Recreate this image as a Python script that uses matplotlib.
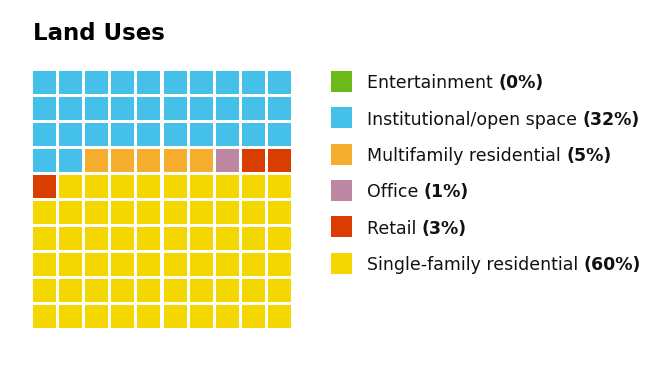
import matplotlib
matplotlib.use("Agg")
import matplotlib.pyplot as plt
from matplotlib.patches import Rectangle

# data (counts of squares, 10x10 grid)
categories = ["Entertainment", "Institutional/open space", "Multifamily residential",
              "Office", "Retail", "Single-family residential"]
counts = [0, 32, 5, 1, 3, 59]
pct_labels = ["0%", "32%", "5%", "1%", "3%", "60%"]
colors = ["#6BBA1A", "#45C0E8", "#F5AD2D", "#BE87A2", "#DA3D00", "#F4D600"]

W, H = 670, 365
fig = plt.figure(figsize=(W / 100, H / 100), dpi=100)
ax = fig.add_axes([0, 0, 1, 1])
ax.set_xlim(0, W)
ax.set_ylim(H, 0)
ax.axis("off")

font = "DejaVu Sans"

ax.text(33, 40, "Land Uses", fontsize=16.5, fontweight="bold", family=font,
        ha="left", va="baseline", color="black")

# waffle grid
x0, y0, pitch, size = 33, 70.5, 26.1, 23
cells = []
for c, n in zip(colors, counts):
    cells += [c] * n
for i, c in enumerate(cells):
    row, col = divmod(i, 10)
    ax.add_patch(Rectangle((x0 + col * pitch, y0 + row * pitch), size, size,
                           facecolor=c, edgecolor="none"))

# legend
lx, ly, lstep, lsq = 331, 71, 36.3, 21
fig.canvas.draw()
renderer = fig.canvas.get_renderer()
for k, (name, p, c) in enumerate(zip(categories, pct_labels, colors)):
    y = ly + k * lstep
    ax.add_patch(Rectangle((lx, y), lsq, lsq, facecolor=c, edgecolor="none"))
    t = ax.text(367, y + 17.5, name + " ", fontsize=12.5, family=font,
                ha="left", va="baseline", color="#111111")
    bb = t.get_window_extent(renderer)
    xend = ax.transData.inverted().transform((bb.x1, bb.y0))[0]
    ax.text(xend, y + 17.5, "(" + p + ")", fontsize=12.5, family=font,
            fontweight="bold", ha="left", va="baseline", color="#111111")

fig.savefig("out.png", dpi=100)
